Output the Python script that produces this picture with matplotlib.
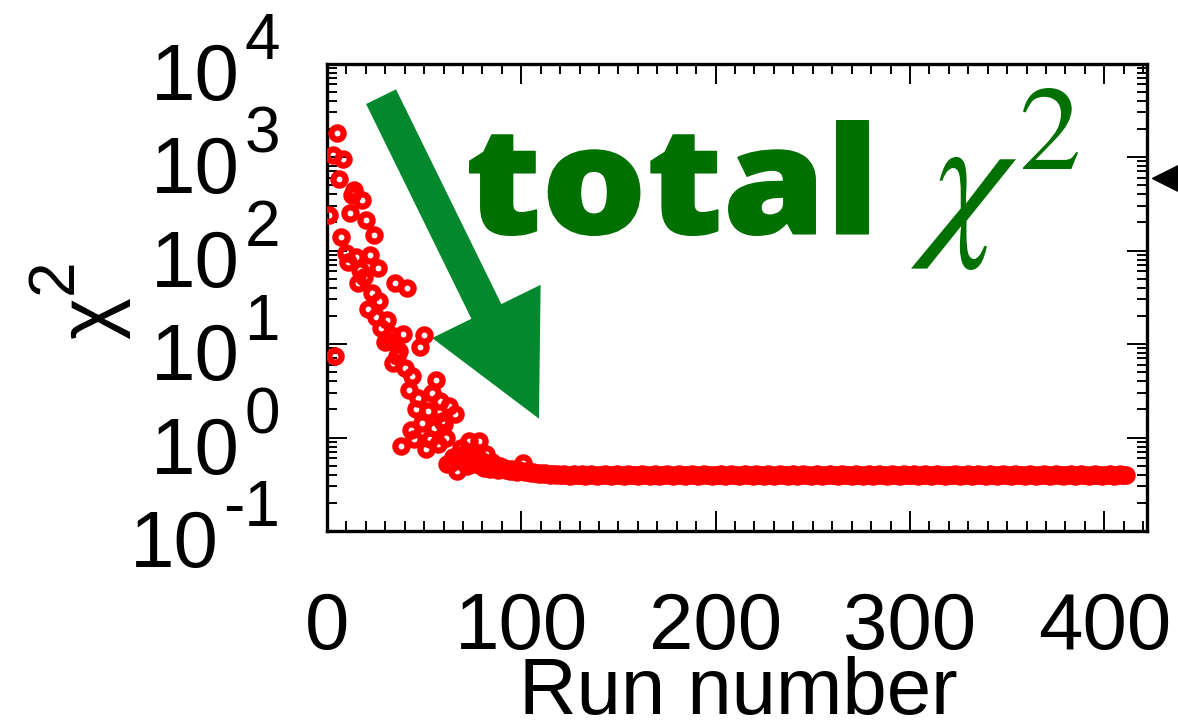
import matplotlib
matplotlib.use("Agg")
import matplotlib.pyplot as plt
from matplotlib.patches import FancyArrowPatch, PathPatch
from matplotlib.textpath import TextPath
from matplotlib.font_manager import FontProperties
from matplotlib.transforms import ScaledTranslation, Affine2D
from matplotlib.ticker import LogLocator, MultipleLocator, NullFormatter, FixedLocator

# ---------------------------------------------------------------- data
# early, scattered part of the minimisation history
scatter_runs = [1, 3, 4, 5, 6, 7, 8, 10, 11, 12, 13, 14, 15, 16, 17, 18, 19, 20,
                21, 22, 23, 24, 25, 26, 27, 28, 30, 31, 32, 33, 34, 35, 36, 37,
                38, 39, 40, 41, 42, 43, 44, 45, 46, 47, 48, 49, 50, 51, 52, 53,
                54, 55, 56, 57, 58, 59, 60, 61, 62, 63, 64, 65, 66, 67, 68, 69,
                70, 71, 72, 73, 74, 75, 76, 77, 78, 79, 80, 81, 82]
scatter_chi2 = [240, 1057, 7.5, 1820, 584, 139, 957, 94, 75, 252, 393, 445, 85,
                45, 62, 347, 52, 212, 23.5, 89, 35, 146, 19.3, 65, 29, 15, 10.4,
                17.9, 10.9, 12.4, 6.2, 45, 7.5, 8.5, 0.82, 12.7, 5.5, 39.5, 3.2,
                1.2, 4.6, 0.97, 2.0, 2.67, 9.2, 1.44, 12.4, 0.75, 1.94, 0.97, 3.0,
                1.27, 4.1, 0.85, 2.48, 1.51, 1.41, 1.0, 0.52, 2.19, 0.53, 0.62,
                1.8, 0.44, 0.59, 0.78, 0.55, 0.68, 0.50, 0.92, 0.58, 0.72, 0.52,
                0.63, 0.92, 0.49, 0.56, 0.47, 0.67]

# converged part: one value per run, starting at run 83
plateau_first_run = 83
plateau_chi2 = [
    0.52, 0.46, 0.55, 0.48, 0.50, 0.45, 0.49, 0.46, 0.47, 0.45, 0.46, 0.44, 0.46, 0.44, 0.45, 0.43, 0.45, 0.44,
    0.54,
    0.43, 0.44, 0.43, 0.42, 0.43, 0.42, 0.42, 0.41, 0.42, 0.41, 0.42, 0.41, 0.41, 0.40, 0.41, 0.41, 0.40, 0.41, 0.40,
    0.40, 0.41, 0.40, 0.40, 0.39, 0.40, 0.41, 0.40, 0.40, 0.40, 0.41, 0.40, 0.39, 0.40, 0.40, 0.41, 0.40, 0.40, 0.39, 0.40,
    0.40, 0.40, 0.41, 0.40, 0.40, 0.39, 0.40, 0.40, 0.41, 0.40, 0.40, 0.40, 0.39, 0.40, 0.41, 0.40, 0.40, 0.40, 0.40, 0.39,
    0.40, 0.41, 0.40, 0.40, 0.40, 0.39, 0.40, 0.40, 0.41, 0.40, 0.39, 0.40, 0.40, 0.40, 0.41, 0.40, 0.40, 0.39, 0.40, 0.40,
    0.41, 0.40, 0.40, 0.39, 0.40, 0.40, 0.40, 0.41, 0.40, 0.40, 0.39, 0.40, 0.40, 0.41, 0.40, 0.40, 0.40, 0.39, 0.40, 0.40,
    0.40, 0.40, 0.41, 0.40, 0.39, 0.40, 0.40, 0.41, 0.40, 0.40, 0.40, 0.39, 0.40, 0.40, 0.41, 0.40, 0.40, 0.40, 0.39, 0.40,
    0.41, 0.40, 0.40, 0.40, 0.39, 0.40, 0.41, 0.40, 0.40, 0.39, 0.40, 0.40, 0.41, 0.40, 0.40, 0.40, 0.39, 0.40, 0.40, 0.41,
    0.40, 0.39, 0.40, 0.40, 0.41, 0.40, 0.40, 0.40, 0.39, 0.40, 0.40, 0.41, 0.40, 0.40, 0.39, 0.40, 0.40, 0.40, 0.41, 0.40,
    0.40, 0.40, 0.39, 0.40, 0.41, 0.40, 0.40, 0.40, 0.40, 0.39, 0.40, 0.41, 0.40, 0.40, 0.40, 0.39, 0.40, 0.40, 0.41, 0.40,
    0.39, 0.40, 0.40, 0.41, 0.40, 0.40, 0.40, 0.39, 0.40, 0.40, 0.41, 0.40, 0.40, 0.40, 0.39, 0.40, 0.41, 0.40, 0.40, 0.40,
    0.40, 0.41, 0.40, 0.39, 0.40, 0.40, 0.40, 0.41, 0.40, 0.40, 0.39, 0.40, 0.40, 0.41, 0.40, 0.40, 0.40, 0.39, 0.40, 0.40,
    0.40, 0.40, 0.41, 0.40, 0.40, 0.39, 0.40, 0.40, 0.40, 0.41, 0.40, 0.39, 0.40, 0.40, 0.41, 0.40, 0.40, 0.40, 0.39, 0.40,
    0.41, 0.40, 0.40, 0.40, 0.39, 0.40, 0.40, 0.41, 0.40, 0.40, 0.40, 0.39, 0.40, 0.41, 0.40, 0.40, 0.40, 0.40, 0.39, 0.40,
    0.40, 0.41, 0.40, 0.40, 0.39, 0.40, 0.40, 0.40, 0.41, 0.40, 0.40, 0.39, 0.40, 0.40, 0.41, 0.40, 0.40, 0.40, 0.39, 0.40,
    0.40, 0.40, 0.41, 0.40, 0.39, 0.40, 0.40, 0.41, 0.40, 0.40, 0.40, 0.39, 0.40, 0.40, 0.41, 0.40, 0.40, 0.40, 0.39, 0.40,
    0.40, 0.40, 0.41, 0.40, 0.39, 0.40, 0.40, 0.41, 0.40, 0.40, 0.40,
]

# pointer drawn just outside the right frame
pointer_run = [432]
pointer_chi2 = [594]

x_range = (0, 422)
y_range = (1e-1, 1e4)
x_major_ticks = [0, 100, 200, 300, 400]
y_decades = [-1, 0, 1, 2, 3, 4]

# ---------------------------------------------------------------- style
plt.rcParams['font.family'] = ['Liberation Sans', 'DejaVu Sans']

W, H, DPI = 1178, 727, 100
fig = plt.figure(figsize=(W / DPI, H / DPI), dpi=DPI)
fig.patch.set_facecolor('white')

ax_left, ax_right, ax_top, ax_bottom = 327, 1147, 63.5, 531
ax = fig.add_axes([ax_left / W, 1 - ax_bottom / H,
                   (ax_right - ax_left) / W, (ax_bottom - ax_top) / H])

runs = scatter_runs + list(range(plateau_first_run, plateau_first_run + len(plateau_chi2)))
chi2 = scatter_chi2 + plateau_chi2

ax.plot(runs, chi2, linestyle='none', marker='o', markersize=8.8,
        markerfacecolor='none', markeredgecolor='#ff0000',
        markeredgewidth=4.5, zorder=5)

ax.plot(pointer_run, pointer_chi2, linestyle='none', marker='<',
        markersize=20, color='black', clip_on=False, zorder=6)

ax.set_xlim(*x_range)
ax.set_yscale('log')
ax.set_ylim(*y_range)

for sp in ax.spines.values():
    sp.set_linewidth(2.4)

ax.xaxis.set_major_locator(FixedLocator(x_major_ticks))
ax.xaxis.set_minor_locator(MultipleLocator(10))
ax.yaxis.set_major_locator(LogLocator(base=10, numticks=20))
ax.yaxis.set_minor_locator(LogLocator(base=10, subs=range(2, 10), numticks=20))
ax.yaxis.set_major_formatter(NullFormatter())
ax.yaxis.set_minor_formatter(NullFormatter())

ax.tick_params(which='both', direction='in', top=True, right=True, width=1.4)
ax.tick_params(which='major', length=14.4)
ax.tick_params(which='minor', length=7.2)
ax.tick_params(axis='x', which='major', labelsize=57.5, pad=43)

# y tick labels: "10" with a raised exponent, right aligned as a unit
ytf = ax.get_yaxis_transform()
for e in y_decades:
    exp_tf = ytf + ScaledTranslation(-47 / DPI, 4.5 / DPI, fig.dpi_scale_trans)
    t_exp = ax.text(0, 10.0 ** e, str(e), transform=exp_tf, ha='right',
                    va='baseline', fontsize=46, clip_on=False)
    ax.annotate('10', xy=(0, 0.5), xycoords=t_exp, xytext=(-3.5, -41.5),
                textcoords='offset points', ha='right', va='baseline',
                fontsize=57.5, annotation_clip=False)

# axis titles
fig.text(738 / W, 1 - 714 / H, 'Run number', ha='center', va='baseline',
         fontsize=57.5)
# rotated chi^2: symbol and a large raised exponent
fig.text(113 / W, 1 - 318 / H, '\u03c7', rotation=90, rotation_mode='anchor',
         ha='center', va='baseline', fontsize=57.5)
fig.text(72 / W, 1 - 276 / H, '2', rotation=90, rotation_mode='anchor',
         ha='center', va='baseline', fontsize=46)

# big green arrow
arrow = FancyArrowPatch((0.0659, 0.929), (0.2585, 0.2403),
                        transform=ax.transAxes,
                        arrowstyle='simple,head_length=86,head_width=87,tail_width=24',
                        mutation_scale=1, shrinkA=0, shrinkB=0,
                        color='#03882e', linewidth=0, zorder=3)
ax.add_patch(arrow)


def boxed_text(s, prop, x0, x1, y_top, y_bottom, color, stroke_px=0.0):
    """Draw text outlines scaled so the ink fills the given pixel box
    (y measured downward from the top of the figure)."""
    tp = TextPath((0, 0), s, size=100, prop=prop)
    ext = tp.get_extents()
    h = stroke_px / 2.0
    sx = (x1 - x0 - 2 * h) / ext.width
    sy = (y_bottom - y_top - 2 * h) / ext.height
    tr = (Affine2D().translate(-ext.x0, -ext.y0).scale(sx, sy)
          .translate(x0 + h, H - y_bottom + h))
    patch = PathPatch(tp, transform=tr, facecolor=color,
                      edgecolor=color if stroke_px else 'none',
                      linewidth=stroke_px * 72.0 / DPI, joinstyle='round')
    fig.add_artist(patch)
    return patch


caption_color = '#007000'
bold_prop = FontProperties(family='Open Sans', weight='black')
serif_prop = FontProperties(family='STIXGeneral', style='italic')
boxed_text('total', bold_prop, 469, 869, 120, 236, caption_color, stroke_px=1.5)
boxed_text('\u03c7', serif_prop, 911, 1016, 157, 270, caption_color)
boxed_text('2', FontProperties(family='STIXGeneral'), 1023, 1078, 88, 169,
           caption_color)

fig.savefig('out.png', dpi=DPI, facecolor='white')
